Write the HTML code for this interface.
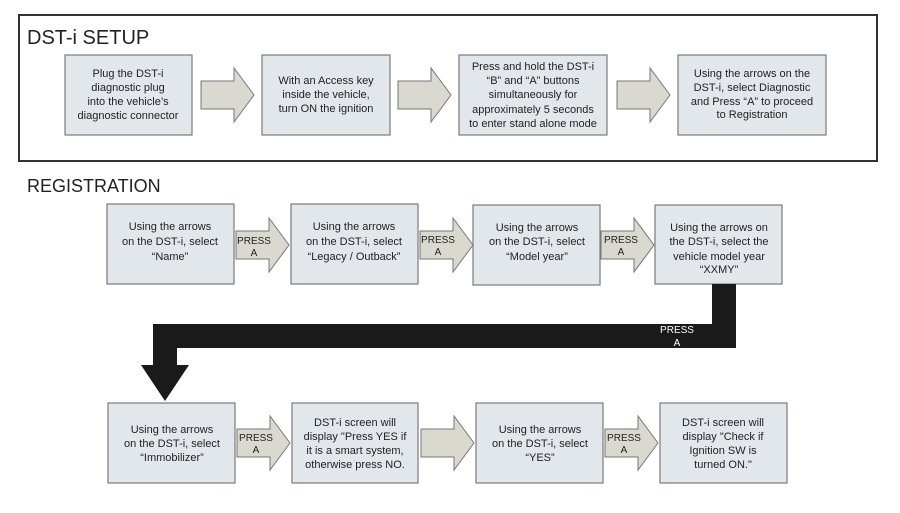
<!DOCTYPE html>
<html><head><meta charset="utf-8"><style>
body{margin:0;background:#fff;}
svg{display:block;font-family:"Liberation Sans",Arial,sans-serif;}
.b{fill:#e1e7ea;stroke:#7a7a7a;stroke-width:1.2}
.a{fill:#d9d9cf;stroke:#777;stroke-width:1}
.t{font-size:11px;fill:#222;text-anchor:middle}
.p{font-size:10px;fill:#222;text-anchor:middle}
</style></head><body>
<svg width="900" height="513" viewBox="0 0 900 513">
<defs>
<path id="arr" d="M0,13 H33 V0 L53,27 L33,54 V41 H0 Z"/>
</defs>
<rect x="19" y="15" width="858" height="146" fill="none" stroke="#333" stroke-width="2"/>
<text x="27" y="44" font-size="20" fill="#222">DST-i SETUP</text>
<text x="27" y="192" font-size="18" fill="#222">REGISTRATION</text>

<!-- setup row -->
<rect class="b" x="65" y="55" width="127" height="80"/>
<text class="t"><tspan x="128" y="77">Plug the DST-i</tspan><tspan x="128" y="91">diagnostic plug</tspan><tspan x="128" y="105">into the vehicle’s</tspan><tspan x="128" y="119">diagnostic connector</tspan></text>
<use href="#arr" class="a" transform="translate(201,68)"/>
<rect class="b" x="262" y="55" width="128" height="80"/>
<text class="t"><tspan x="326" y="84">With an Access key</tspan><tspan x="326" y="98">inside the vehicle,</tspan><tspan x="326" y="112">turn ON the ignition</tspan></text>
<use href="#arr" class="a" transform="translate(398,68)"/>
<rect class="b" x="459" y="55" width="148" height="80"/>
<text class="t"><tspan x="533" y="70">Press and hold the DST-i</tspan><tspan x="533" y="84">“B” and “A” buttons</tspan><tspan x="533" y="98">simultaneously for</tspan><tspan x="533" y="113">approximately 5 seconds</tspan><tspan x="533" y="127">to enter stand alone mode</tspan></text>
<use href="#arr" class="a" transform="translate(617,68)"/>
<rect class="b" x="678" y="55" width="148" height="80"/>
<text class="t"><tspan x="752" y="77">Using the arrows on the</tspan><tspan x="752" y="91">DST-i, select Diagnostic</tspan><tspan x="752" y="105">and Press “A” to proceed</tspan><tspan x="752" y="118">to Registration</tspan></text>

<!-- registration row 1 -->
<rect class="b" x="107" y="204" width="127" height="80"/>
<text class="t"><tspan x="170" y="230">Using the arrows</tspan><tspan x="170" y="245">on the DST-i, select</tspan><tspan x="170" y="260">“Name”</tspan></text>
<use href="#arr" class="a" transform="translate(236,218)"/>
<text class="p"><tspan x="254" y="244">PRESS</tspan><tspan x="254" y="256">A</tspan></text>
<rect class="b" x="291" y="204" width="127" height="80"/>
<text class="t"><tspan x="354" y="230">Using the arrows</tspan><tspan x="354" y="245">on the DST-i, select</tspan><tspan x="354" y="260">“Legacy / Outback”</tspan></text>
<use href="#arr" class="a" transform="translate(420,218)"/>
<text class="p"><tspan x="438" y="243">PRESS</tspan><tspan x="438" y="255">A</tspan></text>
<rect class="b" x="473" y="205" width="127" height="80"/>
<text class="t"><tspan x="537" y="231">Using the arrows</tspan><tspan x="537" y="245">on the DST-i, select</tspan><tspan x="537" y="260">“Model year”</tspan></text>
<use href="#arr" class="a" transform="translate(601,218)"/>
<text class="p"><tspan x="621" y="243">PRESS</tspan><tspan x="621" y="255">A</tspan></text>
<rect class="b" x="655" y="205" width="127" height="79"/>
<text class="t"><tspan x="719" y="231">Using the arrows on</tspan><tspan x="719" y="245">the DST-i, select the</tspan><tspan x="719" y="260">vehicle model year</tspan><tspan x="719" y="273">“XXMY”</tspan></text>

<!-- black connector -->
<path d="M712,284 H736 V348 H177 V365 H189 L165,401 L141,365 H153 V324 H712 Z" fill="#1a1a1a"/>
<text font-size="10" fill="#fff" text-anchor="middle"><tspan x="677" y="333">PRESS</tspan><tspan x="677" y="346">A</tspan></text>

<!-- row 3 -->
<rect class="b" x="108" y="403" width="127" height="80"/>
<text class="t"><tspan x="172" y="433">Using the arrows</tspan><tspan x="172" y="447">on the DST-i, select</tspan><tspan x="172" y="461">“Immobilizer”</tspan></text>
<use href="#arr" class="a" transform="translate(237,416)"/>
<text class="p"><tspan x="256" y="441">PRESS</tspan><tspan x="256" y="453">A</tspan></text>
<rect class="b" x="292" y="403" width="126" height="80"/>
<text class="t"><tspan x="355" y="426">DST-i screen will</tspan><tspan x="355" y="440">display "Press YES if</tspan><tspan x="355" y="454">it is a smart system,</tspan><tspan x="355" y="468">otherwise press NO.</tspan></text>
<use href="#arr" class="a" transform="translate(421,416)"/>
<rect class="b" x="476" y="403" width="127" height="80"/>
<text class="t"><tspan x="540" y="433">Using the arrows</tspan><tspan x="540" y="447">on the DST-i, select</tspan><tspan x="540" y="461">“YES”</tspan></text>
<use href="#arr" class="a" transform="translate(605,416)"/>
<text class="p"><tspan x="624" y="441">PRESS</tspan><tspan x="624" y="453">A</tspan></text>
<rect class="b" x="660" y="403" width="127" height="80"/>
<text class="t"><tspan x="723" y="426">DST-i screen will</tspan><tspan x="723" y="440">display "Check if</tspan><tspan x="723" y="454">Ignition SW is</tspan><tspan x="723" y="468">turned ON."</tspan></text>
</svg>
</body></html>
